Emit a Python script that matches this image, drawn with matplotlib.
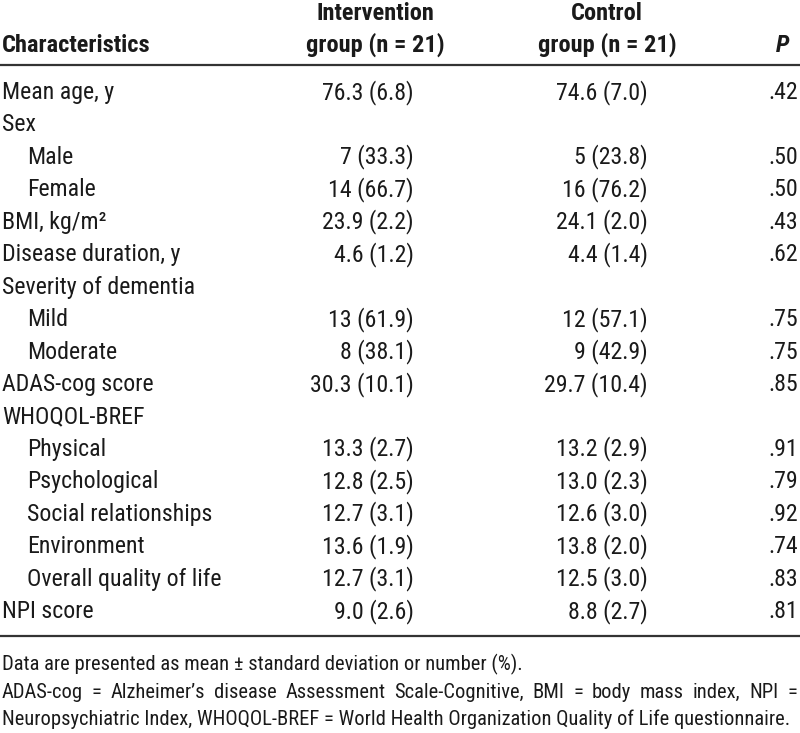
import matplotlib
matplotlib.use("Agg")
import matplotlib.pyplot as plt

# Table content
characteristics = ["Mean age, y", "Sex", "Male", "Female", "BMI, kg/m\u00b2",
                   "Disease duration, y", "Severity of dementia", "Mild", "Moderate",
                   "ADAS-cog score", "WHOQOL-BREF", "Physical", "Psychological",
                   "Social relationships", "Environment", "Overall quality of life",
                   "NPI score"]
indented = [False, False, True, True, False, False, False, True, True,
            False, False, True, True, True, True, True, False]
intervention = ["76.3 (6.8)", "", "7 (33.3)", "14 (66.7)", "23.9 (2.2)", "4.6 (1.2)",
                "", "13 (61.9)", "8 (38.1)", "30.3 (10.1)", "", "13.3 (2.7)",
                "12.8 (2.5)", "12.7 (3.1)", "13.6 (1.9)", "12.7 (3.1)", "9.0 (2.6)"]
control = ["74.6 (7.0)", "", "5 (23.8)", "16 (76.2)", "24.1 (2.0)", "4.4 (1.4)",
           "", "12 (57.1)", "9 (42.9)", "29.7 (10.4)", "", "13.2 (2.9)",
           "13.0 (2.3)", "12.6 (3.0)", "13.8 (2.0)", "12.5 (3.0)", "8.8 (2.7)"]
p_values = [".42", "", ".50", ".50", ".43", ".62", "", ".75", ".75", ".85", "",
            ".91", ".79", ".92", ".74", ".83", ".81"]

footnotes = [
    "Data are presented as mean \u00b1 standard deviation or number (%).",
    "ADAS-cog = Alzheimer\u2019s disease Assessment Scale-Cognitive, BMI = body mass index, NPI =",
    "Neuropsychiatric Index, WHOQOL-BREF = World Health Organization Quality of Life questionnaire.",
]

plt.rcParams["font.family"] = ["Roboto Condensed", "DejaVu Sans"]

fig = plt.figure(figsize=(8, 7.33), dpi=100)
ax = fig.add_axes([0, 0, 1, 1])
ax.set_xlim(0, 800)
ax.set_ylim(733, 0)
ax.axis("off")

fs = 17.2
bfs = 17.6
tc = "#1a1a1a"

# header
ax.text(2, 52, "Characteristics", fontsize=bfs, fontweight="bold", color=tc, va="baseline")
ax.text(375, 20, "Intervention", fontsize=bfs, fontweight="bold", color=tc, va="baseline", ha="center")
ax.text(375, 52, "group (n = 21)", fontsize=bfs, fontweight="bold", color=tc, va="baseline", ha="center")
ax.text(607, 20, "Control", fontsize=bfs, fontweight="bold", color=tc, va="baseline", ha="center")
ax.text(607, 52, "group (n = 21)", fontsize=bfs, fontweight="bold", color=tc, va="baseline", ha="center")
ax.text(789, 52, "P", fontsize=bfs, fontweight="bold", fontstyle="italic", color=tc, va="baseline", ha="right")

ax.plot([0, 800], [65, 65], color="#333333", lw=1.6, solid_capstyle="butt")

for i, name in enumerate(characteristics):
    y = 99 + 32.44 * i
    ax.text(27 if indented[i] else 2, y, name, fontsize=fs, color=tc, va="baseline")
    ax.text(414, y, intervention[i], fontsize=fs, color=tc, va="baseline", ha="right")
    ax.text(648, y, control[i], fontsize=fs, color=tc, va="baseline", ha="right")
    ax.text(798, y, p_values[i], fontsize=fs, color=tc, va="baseline", ha="right")

ax.plot([0, 800], [636, 636], color="#333333", lw=1.6, solid_capstyle="butt")

ffs = 14.8
ax.text(2, 670, footnotes[0], fontsize=ffs, color=tc, va="baseline")
ax.text(2, 725, footnotes[2], fontsize=ffs, color=tc, va="baseline")

# second footnote line is justified across the full width
fig.canvas.draw()
r = fig.canvas.get_renderer()
words = footnotes[1].split(" ")
objs = [ax.text(0, 697.5, w, fontsize=ffs, color=tc, va="baseline") for w in words]
widths = [o.get_window_extent(r).width for o in objs]
gap = (797 - 2 - sum(widths)) / (len(words) - 1)
x = 2
for o, w in zip(objs, widths):
    o.set_x(x)
    x += w + gap

fig.savefig("out.png", dpi=100)
